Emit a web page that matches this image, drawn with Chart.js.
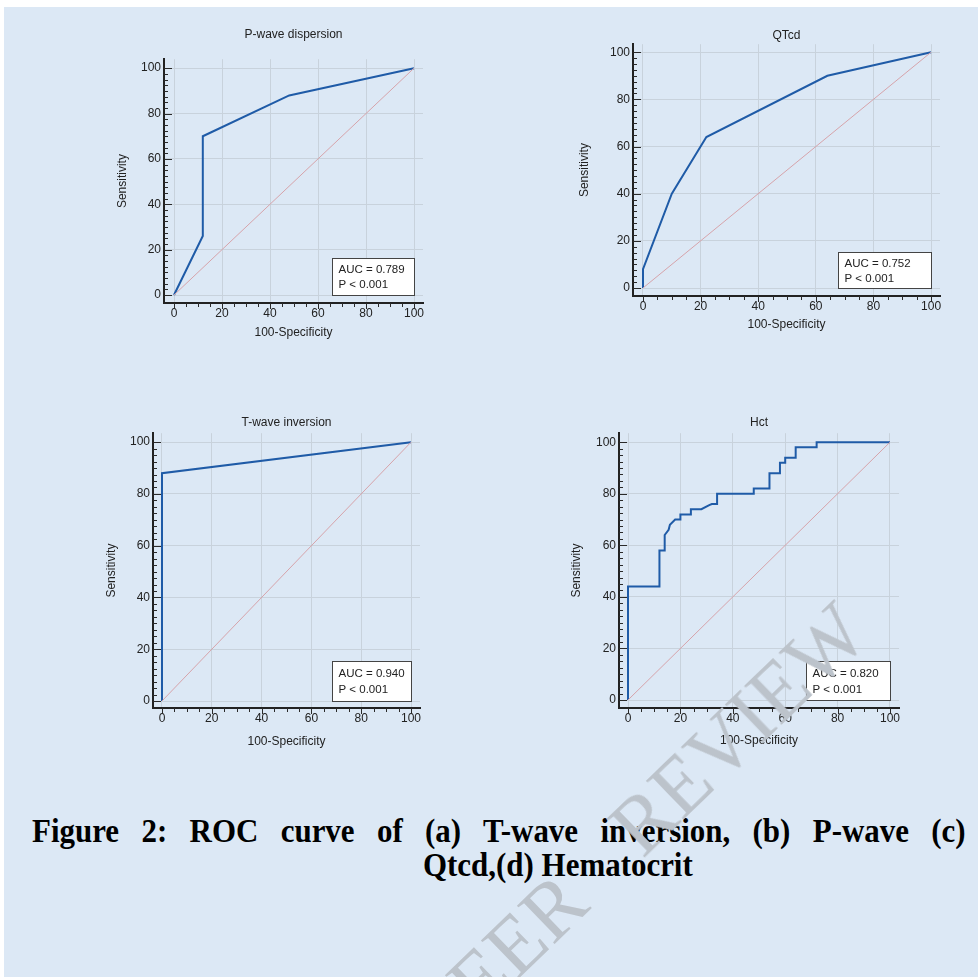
<!DOCTYPE html>
<html><head><meta charset="utf-8">
<script src="https://cdn.jsdelivr.net/npm/chart.js@4.4.0/dist/chart.umd.min.js"></script>
<style>
html,body{margin:0;padding:0;background:#fff;}
body{width:978px;height:977px;position:relative;overflow:hidden;}
#bg{position:absolute;left:4px;top:7px;right:0;bottom:0;background:#dce8f5;}
canvas{position:absolute;}
.cap{position:absolute;font-family:"Liberation Serif","Times New Roman",serif;font-weight:bold;font-size:34px;line-height:34px;color:#000;transform-origin:0 0;transform:scaleX(0.91);}
#cap1{left:31.7px;top:813.8px;width:1026px;text-align:justify;text-align-last:justify;white-space:nowrap;}
#cap2{left:423px;top:848.2px;white-space:nowrap;}
#wm{position:absolute;left:643px;top:860px;width:0;height:0;transform:rotate(-44deg);transform-origin:0 0;}
#wm span{position:absolute;bottom:-13.3px;font-family:"Liberation Serif",serif;font-size:82px;line-height:82px;color:#bcc3cb;white-space:nowrap;}
#wmA{left:0;}
#wmB{right:70px;}
</style></head>
<body>
<div id="bg"></div>
<canvas id="c1"></canvas>
<canvas id="c2"></canvas>
<canvas id="c3"></canvas>
<canvas id="c4"></canvas>
<div class="cap" id="cap1">Figure 2: ROC curve of (a) T-wave inversion, (b) P-wave (c)</div>
<div class="cap" id="cap2">Qtcd,(d) Hematocrit</div>
<div id="wm"><span id="wmB">UNDER PEER</span><span id="wmA">REVIEW</span></div>
<script>
// ---- data (100-Specificity on x, Sensitivity on y) ----
const xTickValues = [0, 20, 40, 60, 80, 100];
const diagX = [0, 100];
const diagY = [0, 100];

const pwaveX = [0, 12, 12, 48, 100];
const pwaveY = [0, 26, 70, 88, 100];

const qtcdX = [0, 0, 10, 22, 64, 100];
const qtcdY = [0, 8, 40, 64, 90, 100];

const twaveX = [0, 0, 100];
const twaveY = [0, 88, 100];

const hctX = [0, 0, 12, 12, 14, 14, 15.5, 16, 18, 20, 20, 24, 24, 28, 31, 32, 34, 34, 48, 48, 54, 54, 58, 58, 60, 60, 64, 64, 72, 72, 100];
const hctY = [0, 44, 44, 58, 58, 64, 66, 68, 70, 70, 72, 72, 74, 74, 75.6, 76, 76, 80, 80, 82, 82, 88, 88, 92, 92, 94, 94, 98, 98, 100, 100];

const titles = ['P-wave dispersion', 'QTcd', 'T-wave inversion', 'Hct'];
const aucLabels = ['AUC = 0.789', 'AUC = 0.752', 'AUC = 0.940', 'AUC = 0.820'];
const pLabels = ['P < 0.001', 'P < 0.001', 'P < 0.001', 'P < 0.001'];

// ---- layout (pixels) ----
const layouts = [
  {id:'c1', L:164, R:423, T:59,  B:303, titleY:34,  xmin:-4.17, xmax:103.75, ymin:-3.52, ymax:103.96, yTitleDist:41.3, xTitleDist:30,   box:[82,37]},
  {id:'c2', L:633, R:940, T:44,  B:296, titleY:35,  xmin:-3.47, xmax:103.1,  ymin:-3.39, ymax:103.39, yTitleDist:48,   xTitleDist:29,   box:[93,36]},
  {id:'c3', L:153, R:420, T:433, B:708, titleY:422, xmin:-3.61, xmax:103.61, ymin:-2.7,  ymax:103.47, yTitleDist:41.3, xTitleDist:33.4, box:[79,40]},
  {id:'c4', L:619, R:899, T:433, B:708, titleY:422, xmin:-3.44, xmax:103.44, ymin:-3.1,  ymax:103.49, yTitleDist:42.3, xTitleDist:32.7, box:[84,39]}
];
const series = [[pwaveX,pwaveY],[qtcdX,qtcdY],[twaveX,twaveY],[hctX,hctY]];

const FONT = '"Liberation Sans", Arial, Helvetica, sans-serif';
const YW = 60, XH = 45, PADR = 10, TLH = 12*1.2;
const toPts = (xs, ys) => xs.map((v,i)=>({x:v, y:ys[i]}));

const extrasPlugin = {
  id:'extras',
  afterDraw(chart, args, opts){
    const ctx = chart.ctx, xs = chart.scales.x, ys = chart.scales.y, ca = chart.chartArea;
    ctx.save();
    ctx.strokeStyle = '#2a2a2a'; ctx.lineWidth = 1;
    ctx.beginPath();
    for (let v = 0; v <= 100; v += 5) {
      const p = Math.round(xs.getPixelForValue(v)) + 0.5;
      const len = v % 20 === 0 ? 5 : 3;
      ctx.moveTo(p, ca.bottom); ctx.lineTo(p, ca.bottom + len + 1);
    }
    for (let v = 0; v <= 100; v += 2.5) {
      const p = Math.round(ys.getPixelForValue(v)) + 0.5;
      const len = v % 20 === 0 ? 8 : 4;
      ctx.moveTo(ca.left, p); ctx.lineTo(ca.left + len, p);
    }
    ctx.stroke();
    // AUC box
    const [bw, bh] = opts.box;
    const right = Math.round(xs.getPixelForValue(100)) + 0.5;
    const bottom = Math.round(ys.getPixelForValue(0)) + 0.5;
    const left = right - bw, top = bottom - bh;
    ctx.fillStyle = '#ffffff';
    ctx.fillRect(left, top, bw, bh);
    ctx.strokeStyle = '#444'; ctx.lineWidth = 1;
    ctx.strokeRect(left, top, bw, bh);
    ctx.fillStyle = '#222';
    ctx.font = '11.5px ' + FONT;
    ctx.textBaseline = 'middle'; ctx.textAlign = 'left';
    ctx.fillText(opts.auc, left + 6, top + bh*0.31);
    ctx.fillText(opts.p, left + 6, top + bh*0.72);
    ctx.restore();
  }
};

layouts.forEach((lay, i) => {
  const cv = document.getElementById(lay.id);
  const top = lay.titleY - TLH/2;
  const w = lay.R - lay.L + YW + PADR;
  const h = lay.B - top + XH;
  cv.width = w; cv.height = h;
  cv.style.left = (lay.L - YW) + 'px';
  cv.style.top = top + 'px';
  cv.style.width = w + 'px'; cv.style.height = h + 'px';
  const [sx, sy] = series[i];
  new Chart(cv, {
    type:'line',
    data:{datasets:[
      {data: toPts(diagX, diagY), borderColor:'#d6a3aa', borderWidth:1, pointRadius:0, tension:0, fill:false},
      {data: toPts(sx, sy), borderColor:'#1f5ba7', borderWidth:2, pointRadius:0, tension:0, fill:false}
    ]},
    options:{
      responsive:false, animation:false, devicePixelRatio:1,
      layout:{padding:{left:0,right:PADR,top:0,bottom:0}},
      plugins:{
        legend:{display:false}, tooltip:{enabled:false},
        title:{display:true, text:titles[i], color:'#222', fullSize:false,
               font:{family:FONT, size:12, weight:'normal'},
               padding:{top:0, bottom: lay.T - lay.titleY - TLH/2}},
        extras:{box: lay.box, auc: aucLabels[i], p: pLabels[i]}
      },
      scales:{
        x:{type:'linear', position:'bottom', min:lay.xmin, max:lay.xmax,
           afterBuildTicks: s => { s.ticks = xTickValues.map(v=>({value:v})); },
           afterFit: s => { s.height = XH; },
           ticks:{color:'#222', font:{family:FONT, size:12}, padding:3, maxRotation:0, autoSkip:false},
           grid:{color:'#c8d2dc', lineWidth:1, drawTicks:false},
           border:{display:true, color:'#222', width:2},
           title:{display:true, text:'100-Specificity', color:'#222', font:{family:FONT, size:12},
                  padding:{top:0, bottom: XH - lay.xTitleDist - TLH/2}}},
        y:{type:'linear', position:'left', min:lay.ymin, max:lay.ymax,
           afterBuildTicks: s => { s.ticks = xTickValues.map(v=>({value:v})); },
           afterFit: s => { s.width = YW; },
           ticks:{color:'#222', font:{family:FONT, size:12}, padding:3, autoSkip:false},
           grid:{color:'#c8d2dc', lineWidth:1, drawTicks:false},
           border:{display:true, color:'#222', width:2},
           title:{display:true, text:'Sensitivity', color:'#222', font:{family:FONT, size:12},
                  padding:{top: YW - lay.yTitleDist - TLH/2, bottom:0}}}
      }
    },
    plugins:[extrasPlugin]
  });
});
</script>
</body></html>
